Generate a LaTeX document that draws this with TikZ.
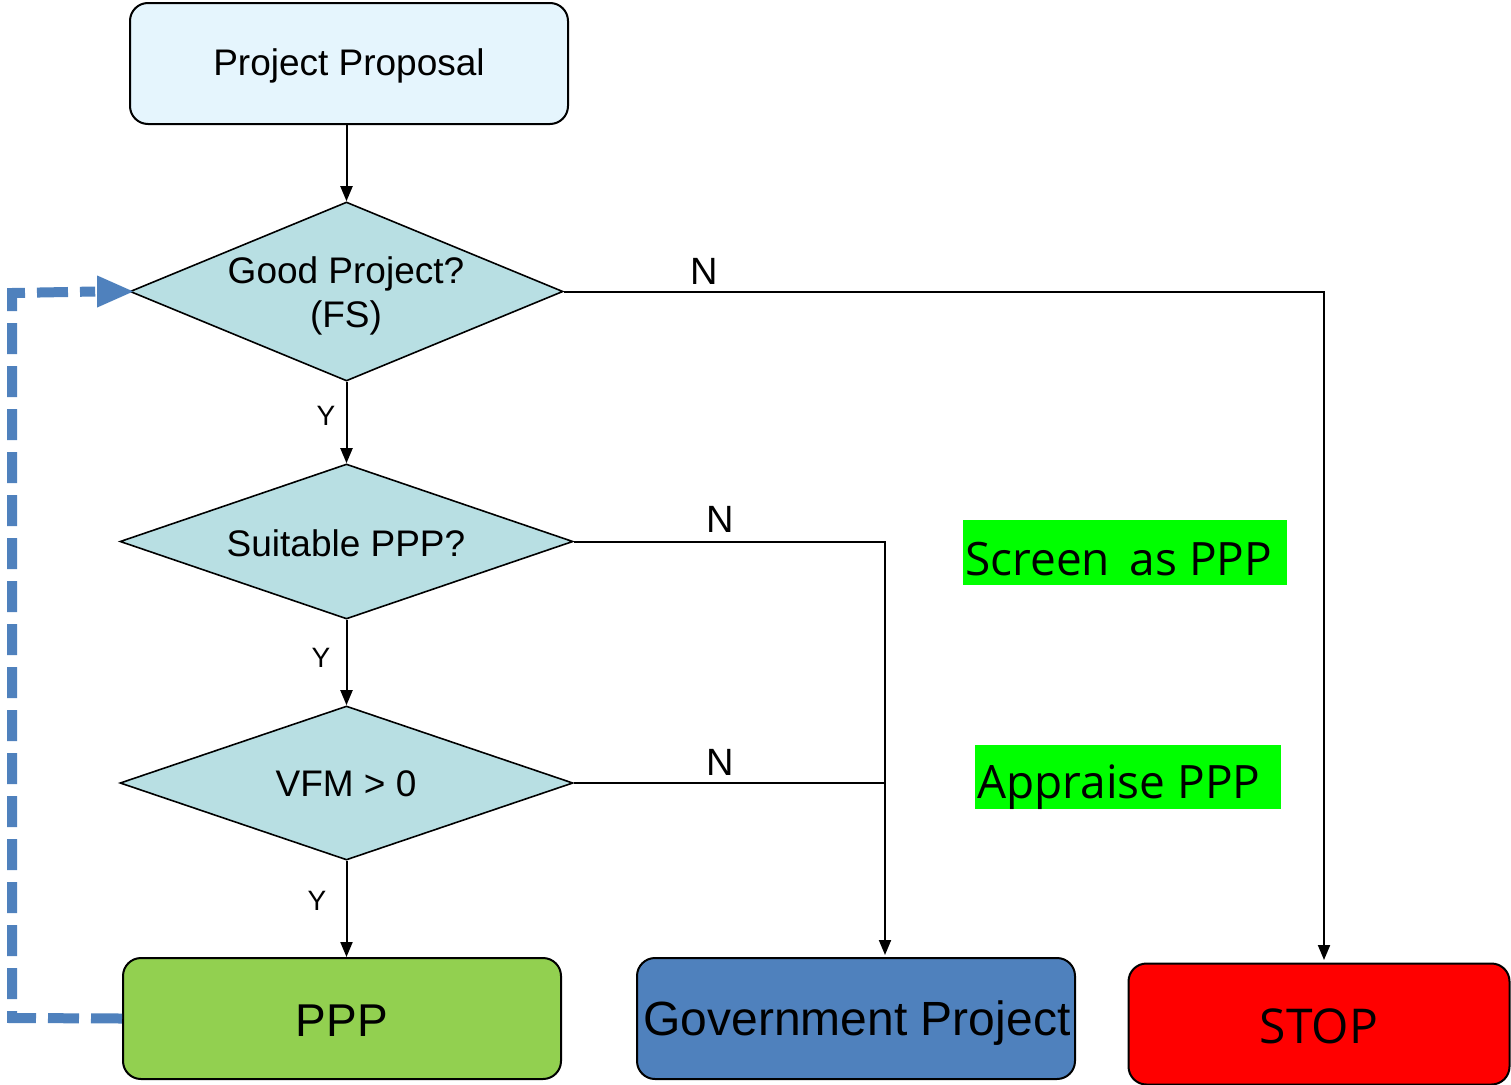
\documentclass[tikz,border=0pt]{standalone}
\usepackage{fontspec}
\setmainfont{Liberation Sans}
\newfontfamily\segoe{Open Sans}
\usetikzlibrary{shapes.geometric,arrows.meta,calc}
\definecolor{propfill}{HTML}{E5F5FD}
\definecolor{diafill}{HTML}{B8DFE3}
\definecolor{pppfill}{HTML}{92D050}
\definecolor{govfill}{HTML}{4F81BD}
\definecolor{dashblue}{HTML}{4F81BD}
\definecolor{brightgreen}{HTML}{00FF00}
\tikzset{
  box/.style={draw=black, line width=2pt, rounded corners=18pt, minimum width=438pt, minimum height=121pt, inner sep=0pt},
  dia/.style={draw=black, line width=1.6pt, diamond, fill=diafill, inner sep=0pt},
  txt/.style={font=\fontsize{37}{44}\selectfont, align=center, inner sep=0pt},
  lab/.style={font=\fontsize{38}{44}\selectfont, inner sep=0pt},
  ylab/.style={font=\fontsize{28}{32}\selectfont, inner sep=0pt},
  conn/.style={draw=black, line width=2pt, -{Triangle[length=15pt,width=12pt]}},
  plain/.style={draw=black, line width=2pt},
  tag/.style={fill=brightgreen, inner sep=0pt},
  tagtxt/.style={font=\segoe\fontsize{46}{52}\selectfont, inner sep=0pt, anchor=base west}
}
\begin{document}
\begin{tikzpicture}[x=1pt,y=-1pt]
\useasboundingbox (0,0) rectangle (1511,1084);
% nodes
\node[box, fill=propfill] (prop) at (349,63.5) {};
\node[txt] (proptxt) at (349,66) {Project Proposal};
\node[dia, minimum width=433pt, minimum height=179pt] (d1) at (346.5,291.5) {};
\node[txt] (d1txt) at (346,296) {Good Project?\\(FS)};
\node[dia, minimum width=453pt, minimum height=155pt] (d2) at (346.5,541.5) {};
\node[txt] (d2txt) at (346,543) {Suitable PPP?};
\node[dia, minimum width=453pt, minimum height=154pt] (d3) at (346.5,783) {};
\node[txt] (d3txt) at (346,784) {VFM > 0};
\node[box, fill=pppfill] (ppp) at (342,1018.5) {};
\node[font=\fontsize{46}{52}\selectfont, inner sep=0pt] (ppptxt) at (342,1021) {PPP};
\node[box, fill=govfill] (gov) at (856,1018.5) {};
\node[font=\fontsize{48}{52}\selectfont, inner sep=0pt] (govtxt) at (857,1023) {Government Project};
\node[box, fill=red, minimum width=381pt, minimum height=121pt] (stop) at (1319,1024) {};
\node[font=\segoe\fontsize{48}{52}\selectfont, inner sep=0pt] (stoptxt) at (1319,1026) {STOP};
% green tags
\node[tag, minimum width=324pt, minimum height=65pt] (tag1) at (1125,552.5) {};
\node[tagtxt] (tag1txt) at (965,575) {Screen\, as PPP};
\node[tag, minimum width=306pt, minimum height=64pt] (tag2) at (1128,777) {};
\node[tagtxt] (tag2txt) at (977,798) {Appraise PPP};
% helper coordinates
\coordinate (gt) at (885,955);
\coordinate (st) at (1324,960);
\coordinate (bl) at (12,1018);
\coordinate (tl) at (12,293);
% connectors
\draw[conn] (prop.south -| d1.north) -- (d1.north);
\draw[conn] (d1.south) -- (d2.north);
\draw[conn] (d2.south) -- (d3.north);
\draw[conn] (d3.south) -- (ppp.north -| d3.south);
\draw[conn] (d1.east) -| (st);
\draw[conn] (d2.east) -| (gt);
\draw[plain] (d3.east) -- (d3.east -| gt);
\draw[dashblue, line width=10pt, dash pattern=on 31pt off 12pt]
  (ppp.west) -- (bl) -- (tl) -- ($(d1.west)+(-34,0)$);
\fill[dashblue] ($(d1.west)+(4,0)$) -- ++(-36,-16) -- ++(0,32) -- cycle;
% labels
\node[lab] (n1) at (704,271) {N};
\node[lab] (n2) at (720,519) {N};
\node[lab] (n3) at (720,762) {N};
\node[ylab] (y1) at (326,416) {Y};
\node[ylab] (y2) at (321,658) {Y};
\node[ylab] (y3) at (317,901) {Y};
\end{tikzpicture}
\end{document}
